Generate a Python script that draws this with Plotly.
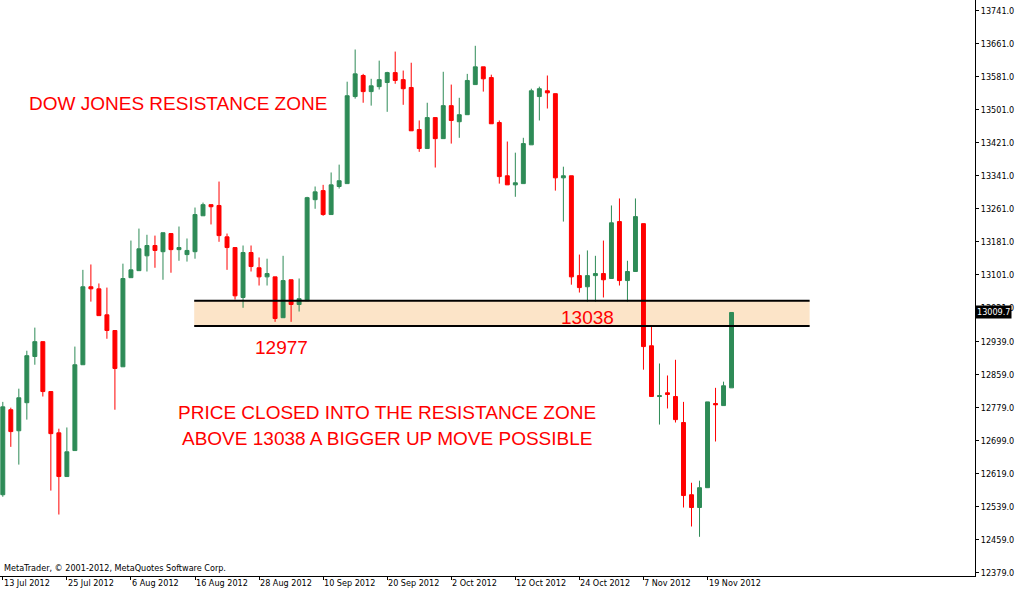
import plotly.graph_objects as go

opens = [12568,12774,12723,12791,12903,12939,12818,12718,12612,12675,12883,13072,13067,13004,12966,12878,13094,13111,13147,13172,13157,13201,13162,13150,13157,13244,13271,13269,13193,13167,
13046,13155,13118,13096,13096,12997,13089,13029,13038,13283,13305,13247,13315,13322,13533,13584,13545,13557,13567,13591,13574,13555,13453,13407,13482,13431,13511,13472,13489,13562,
13605,13579,13470,13341,13319,13322,13416,13533,13547,13540,13336,13341,13099,13072,13099,13104,13092,13230,13087,13109,13225,12929,12806,12815,12806,12743,12568,12537,12585,12789,12784,12827]
highs = [12793,12779,12825,12917,12973,12939,12818,12728,12731,12927,13113,13126,13080,13070,12966,13128,13184,13213,13198,13196,13203,13201,13218,13189,13264,13276,13271,13327,13201,13167,
13172,13172,13143,13140,13096,13147,13089,13092,13290,13315,13319,13349,13368,13569,13647,13588,13576,13620,13593,13642,13596,13615,13475,13518,13482,13593,13562,13530,13588,13656,
13605,13586,13475,13424,13397,13433,13552,13557,13584,13540,13363,13341,13150,13160,13147,13184,13269,13286,13135,13286,13225,12975,12886,12857,12895,12793,12597,12602,12793,12827,12842,13010]
lows = [12563,12684,12641,12750,12883,12806,12578,12520,12612,12675,12883,13036,13002,12946,12774,12878,13094,13111,13109,13118,13089,13106,13135,13133,13140,13244,13223,13181,13113,13041,
13021,13109,13075,13075,12987,12997,12987,13012,13038,13261,13244,13247,13310,13322,13528,13518,13511,13550,13496,13564,13513,13450,13399,13407,13361,13431,13419,13433,13489,13562,
13545,13467,13322,13319,13290,13322,13416,13475,13504,13305,13230,13077,13058,13036,13036,13046,13092,13075,13036,13109,12871,12806,12738,12777,12743,12537,12491,12466,12585,12697,12784,12827]
closes = [12781,12721,12803,12905,12939,12818,12716,12612,12672,12883,13072,13067,13002,12966,12874,13092,13113,13164,13172,13160,13203,13162,13167,13160,13247,13271,13266,13196,13167,13050,
13155,13121,13096,13104,12995,13087,13029,13043,13288,13302,13247,13319,13329,13535,13588,13545,13559,13574,13591,13572,13552,13450,13407,13482,13431,13511,13475,13489,13572,13605,
13576,13467,13339,13319,13324,13419,13547,13552,13542,13336,13341,13096,13070,13099,13104,13089,13227,13087,13109,13242,12927,12806,12808,12811,12750,12566,12537,12585,12793,12786,12832,13009.7]

date_labels = ["13 Jul 2012","25 Jul 2012","6 Aug 2012","16 Aug 2012","28 Aug 2012","10 Sep 2012",
               "20 Sep 2012","2 Oct 2012","12 Oct 2012","24 Oct 2012","7 Nov 2012","19 Nov 2012"]
date_bars = [0,8,16,24,32,40,48,56,64,72,80,88]
price_ticks = [13741,13661,13581,13501,13421,13341,13261,13181,13101,13021,12939,12859,12779,12699,12619,12539,12459,12379]
zone_top, zone_bottom = 13038, 12977
zone_start, zone_end = 23.9, 100.75
bid = 13009.7

x = list(range(len(opens)))
fig = go.Figure(go.Candlestick(
    x=x, open=opens, high=highs, low=lows, close=closes,
    increasing=dict(line=dict(color="#2E8B57", width=1), fillcolor="#2E8B57"),
    decreasing=dict(line=dict(color="#FF0000", width=1), fillcolor="#FF0000"),
    whiskerwidth=0, showlegend=False, hoverinfo="skip"))

fig.add_shape(type="rect", x0=zone_start, x1=zone_end, y0=zone_bottom, y1=zone_top,
              fillcolor="#FCE4C8", line=dict(width=0), layer="below")
for yv in (zone_top, zone_bottom):
    fig.add_shape(type="line", x0=zone_start, x1=zone_end, y0=yv, y1=yv,
                  line=dict(color="black", width=2))

red = "#FF0000"
big = dict(size=19, color=red, family="Liberation Sans, Arial")
small = dict(size=9, color="black", family="DejaVu Sans Condensed, DejaVu Sans")
ann = []
ann.append(dict(x=3, y=13517, text="DOW JONES RESISTANCE ZONE", xanchor="left", font=big))
ann.append(dict(x=31.3, y=12925, text=str(zone_bottom), xanchor="left", font=big))
ann.append(dict(x=69.5, y=12997, text=str(zone_top), xanchor="left", font=big))
ann.append(dict(x=48, y=12767, text="PRICE CLOSED INTO THE RESISTANCE ZONE", xanchor="center", font=big))
ann.append(dict(x=48, y=12704, text="ABOVE 13038 A BIGGER UP MOVE POSSIBLE", xanchor="center", font=big))
for b, t in zip(date_bars, date_labels):
    ann.append(dict(x=b, y=0, yref="paper", yanchor="top", xshift=-1, text=t, xanchor="left", font=small))
ann.append(dict(x=0, xref="paper", y=0, yref="paper", xanchor="left", yanchor="bottom", xshift=2, yshift=1,
                text="MetaTrader, © 2001-2012, MetaQuotes Software Corp.", font=small))
ann.append(dict(x=1, xref="paper", y=bid, xanchor="left", xshift=0, text=f"{bid:.1f}", bgcolor="black",
                font=dict(small, color="white"), borderpad=1))
for a in ann:
    a.setdefault("showarrow", False)
    a.setdefault("xref", "x")
    a.setdefault("yref", "y")

fig.update_layout(
    annotations=ann,
    width=1018, height=592, margin=dict(l=0, r=43, t=0, b=16),
    paper_bgcolor="white", plot_bgcolor="white",
    font=dict(family="DejaVu Sans, Liberation Sans, Arial", color="black"),
    xaxis=dict(range=[-0.35, 121.4], showgrid=False, showticklabels=False, rangeslider=dict(visible=False),
               tickvals=date_bars, ticks="outside", ticklen=3, tickcolor="black",
               showline=True, linecolor="black", mirror=True, zeroline=False, fixedrange=True),
    yaxis=dict(range=[12371, 13767], side="right", tickvals=price_ticks, ticktext=[f"{v}.0" for v in price_ticks],
               showgrid=False, showline=True, linecolor="black", mirror=True, ticks="outside", ticklen=3,
               tickcolor="black", tickfont=dict(size=9, family="DejaVu Sans Condensed, DejaVu Sans"), zeroline=False),
)
fig.write_html("out.html", config={"displayModeBar": False})
with open("out.html", encoding="utf-8") as fh:
    html = fh.read()
html = html.replace("<head>", "<head><style>html,body{margin:0;padding:0;overflow:hidden}</style>", 1)
with open("out.html", "w", encoding="utf-8") as fh:
    fh.write(html)
